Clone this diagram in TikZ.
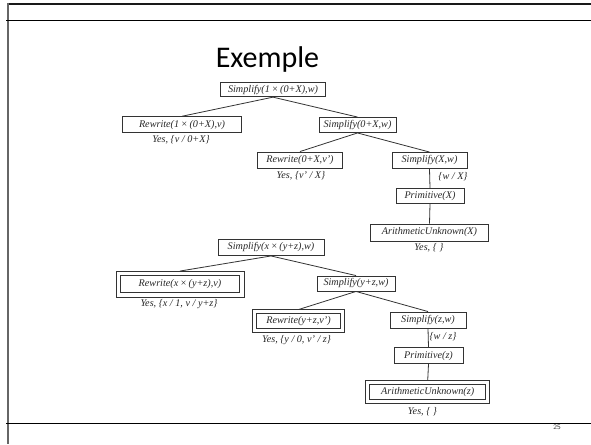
\documentclass[tikz,border=0pt]{standalone}
\usepackage{fontspec}
\setmainfont{Liberation Serif}
\newfontfamily\titlefont{Carlito}
\begin{document}
\begin{tikzpicture}[x=1pt,y=-1pt,
  treetext/.style={font=\fontsize{10.2}{12}\selectfont\itshape, text=black!85},
  box/.style={treetext, draw=black!80, line width=0.9pt, inner sep=0pt, minimum height=15pt},
  lbl/.style={treetext, inner sep=0pt},
  edge/.style={draw=black!80, line width=0.8pt},
  outerline/.style={draw=black!80, line width=0.9pt}]
\useasboundingbox (0,0) rectangle (591,444);
% slide frame
\draw[line width=2pt, black!90] (7,4) -- (591,4);
\draw[line width=2.6pt, black!60] (8,3) -- (8,444);
\draw[line width=0.8pt] (6,20.7) -- (591,20.7);
\draw[line width=0.8pt] (6,423) -- (591,423);
\node[font=\fontsize{7}{8}\selectfont\sffamily, text=black!80] (pg) at (557,427) {25};
\node[font=\titlefont\fontsize{30}{34}\selectfont, anchor=base] (title) at (267.5,67.3) {Exemple};
% first tree
\node[box, minimum width=105pt, minimum height=14pt] (a1) at (273,89.7) {Simplify(1\,×\,(0+X),w)};
\node[box, minimum width=119pt, minimum height=16pt] (a2) at (182,124.7) {Rewrite(1\,×\,(0+X),v)};
\node[box, minimum width=77pt] (a3) at (357.5,125) {Simplify(0+X,w)};
\node[box, minimum width=85pt, minimum height=16pt] (a4) at (300,160) {Rewrite(0+X,v')};
\node[box, minimum width=75pt, minimum height=16pt] (a5) at (429.5,160.5) {Simplify(X,w)};
\node[box, minimum width=68pt] (a6) at (430,196) {Primitive(X)};
\node[box, minimum width=118pt, minimum height=17pt] (a7) at (429.5,232.5) {ArithmeticUnknown(X)};
\node[lbl] (la2) at (181,140) {Yes, \{v / 0+X\}};
\node[lbl] (la4) at (301,176) {Yes, \{v' / X\}};
\node[lbl] (la5) at (453,177) {\{w / X\}};
\node[lbl] (la7) at (429,247.5) {Yes, \{ \}};
\draw[edge] (a1.south) -- (a2.north);
\draw[edge] (a1.south) -- (a3.north);
\draw[edge] (a3.south) -- (a4.north);
\draw[edge] (a3.south) -- (a5.north);
\draw[edge] (a5.south) -- (a6.north);
\draw[edge] (a6.south) -- (a7.north);
% second tree
\node[box, minimum width=106pt, minimum height=16pt] (b1) at (271,247.5) {Simplify(x\,×\,(y+z),w)};
\node[box, minimum width=119pt, minimum height=17pt] (b2) at (180,284) {Rewrite(x\,×\,(y+z),v)};
\draw[outerline] ([xshift=-4pt,yshift=4pt]b2.north west) rectangle ([xshift=4pt,yshift=-4pt]b2.south east);
\coordinate (b2top) at ([yshift=4pt]b2.north);
\node[box, minimum width=78pt] (b3) at (356,283.5) {Simplify(y+z,w)};
\node[box, minimum width=84pt, minimum height=15pt] (b4) at (298.5,321) {Rewrite(y+z,v')};
\draw[outerline] ([xshift=-3.5pt,yshift=3.5pt]b4.north west) rectangle ([xshift=3.5pt,yshift=-3.5pt]b4.south east);
\coordinate (b4top) at ([yshift=3.5pt]b4.north);
\node[box, minimum width=76pt, minimum height=16pt] (b5) at (428,320) {Simplify(z,w)};
\node[box, minimum width=69pt, minimum height=16pt] (b6) at (428.5,355.7) {Primitive(z)};
\node[box, minimum width=116pt, minimum height=15pt] (b7) at (427.7,392) {ArithmeticUnknown(z)};
\draw[outerline] ([xshift=-3.5pt,yshift=3.5pt]b7.north west) rectangle ([xshift=3.5pt,yshift=-3.5pt]b7.south east);
\coordinate (b7top) at ([yshift=3.5pt]b7.north);
\node[lbl] (lb2) at (179,304) {Yes, \{x / 1, v / y+z\}};
\node[lbl] (lb4) at (296.5,340) {Yes, \{y / 0, v' / z\}};
\node[lbl] (lb5) at (443,336.5) {\{w / z\}};
\node[lbl] (lb7) at (422.5,411.5) {Yes, \{ \}};
\draw[edge] (b1.south) -- (b2top);
\draw[edge] (b1.south) -- (b3.north);
\draw[edge] (b3.south) -- (b4top);
\draw[edge] (b3.south) -- (b5.north);
\draw[edge] (b5.south) -- (b6.north);
\draw[edge] (b6.south) -- (b7top);
\end{tikzpicture}
\end{document}
